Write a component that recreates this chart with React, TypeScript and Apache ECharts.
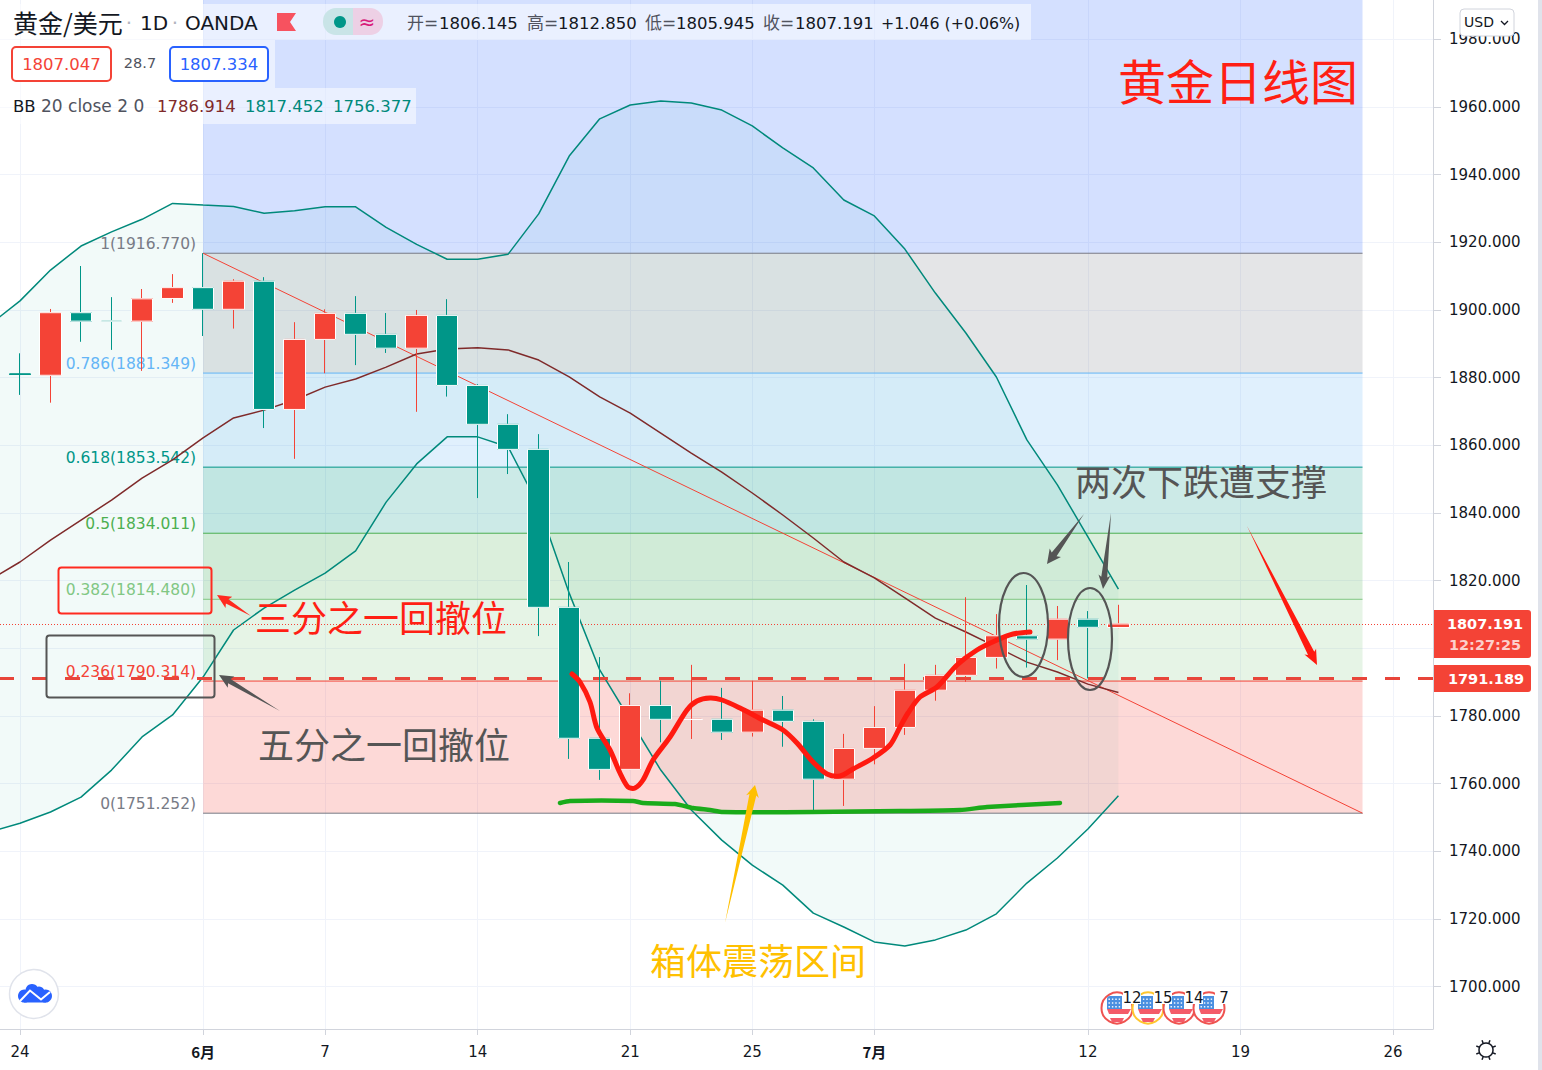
import React, { useEffect, useRef } from "react";
import * as echarts from "echarts";

const F = "'DejaVu Sans','Noto Sans CJK SC',sans-serif";
const CJK = "'Noto Sans CJK SC','DejaVu Sans',sans-serif";
const RED = "#f44336";
const TEAL = "#009688";

const yMin = 1687.46;
const yMax = 1991.63;
const xMin = -0.6555;
const xMax = 46.31;
const priceTicks = [1700, 1720, 1740, 1760, 1780, 1800, 1820, 1840, 1860, 1880, 1900, 1920, 1940, 1960, 1980];
// the 1800.000 label sits under the price tag in the reference
const priceLabels = [1700, 1720, 1740, 1760, 1780, 1820, 1840, 1860, 1880, 1900, 1920, 1940, 1960, 1980];
const dateTicks = [0, 6, 10, 15, 20, 24, 28, 35, 40, 45];
const dateLabels = ["24", "6月", "7", "14", "21", "25", "7月", "12", "19", "26"];

// open, close, low, high from index 0 (24 May)
const opens = [1881.05, 1880.7, 1899.2, 1896.75, 1896.7, 1903.4, 1906.6, 1900.2, 1908.5, 1870.6, 1891.3, 1899, 1892.8, 1888.7, 1898.4, 1877.7, 1866.2, 1858.8, 1812.1, 1773.4, 1764.2, 1783.1, 1778.95, 1779, 1775.2, 1781.7, 1778.4, 1761.3, 1770.4, 1776.6, 1787.6, 1792, 1797.3, 1803.7, 1802.7, 1808.6, 1806.145];
const closes = [1881, 1899.2, 1896.7, 1896.7, 1903.3, 1906.6, 1900.2, 1908.5, 1870.6, 1891.3, 1899, 1892.8, 1888.7, 1898.4, 1877.7, 1866.2, 1858.8, 1812.1, 1773.4, 1764.2, 1783.1, 1779, 1779, 1775.2, 1781.7, 1778.4, 1761.3, 1770.4, 1776.6, 1787.6, 1792, 1797.3, 1803.7, 1802.7, 1808.6, 1806.2, 1807.191];
const lows = [1874.9, 1872.6, 1890.6, 1888.2, 1882, 1902.1, 1892.3, 1894.5, 1865.1, 1856, 1881.3, 1883.7, 1887.3, 1869.9, 1874.4, 1844.4, 1851.5, 1803.6, 1767.3, 1761.1, 1764, 1772.2, 1773.2, 1772.9, 1773.9, 1770.9, 1752.2, 1753.4, 1765.7, 1774.4, 1784.5, 1790.1, 1794, 1794.3, 1796.5, 1791.1, 1805.945];
const highs = [1887.2, 1900.3, 1913, 1903.8, 1906.2, 1910.6, 1916.8, 1909.1, 1909.7, 1896.4, 1900.2, 1904.1, 1899.1, 1900, 1903.2, 1878.1, 1869.2, 1863.3, 1825.5, 1797.4, 1786.7, 1790.4, 1795.1, 1788.3, 1790.4, 1785.9, 1779, 1774.7, 1782.9, 1795.4, 1795.1, 1815.1, 1810.1, 1818.7, 1812.5, 1811, 1812.85];

// Bollinger bands from index -1
const bbUpper = [1895.6, 1902.7, 1911.8, 1918.9, 1923.1, 1926.8, 1931.5, 1931, 1930.6, 1928.6, 1929.3, 1930.5, 1930.5, 1924.4, 1919.4, 1915, 1915, 1916.5, 1928.4, 1945.5, 1956.5, 1960.6, 1961.8, 1961.2, 1959.1, 1954.4, 1947.9, 1942, 1932.5, 1927.8, 1918, 1905, 1893.2, 1880.2, 1861.6, 1848.3, 1832.9, 1817.452];
const bbMiddle = [1820.2, 1825.5, 1832, 1837.9, 1843.8, 1850.3, 1855.7, 1862.2, 1868.1, 1870.4, 1873.4, 1877.2, 1879.6, 1883.1, 1887, 1888.5, 1888.8, 1888.2, 1885.2, 1880.2, 1874.3, 1869.5, 1863.6, 1857.7, 1852.1, 1845.9, 1839.4, 1832.6, 1825.5, 1820.8, 1814.9, 1808.9, 1804.8, 1800.4, 1795.9, 1793, 1789.4, 1786.914];
const bbLower = [1745.7, 1748.3, 1751.6, 1756, 1764, 1773.8, 1780.3, 1791.5, 1805.4, 1811.9, 1817.2, 1822.2, 1828.8, 1843.2, 1854.5, 1862.5, 1862.5, 1859.5, 1842.1, 1816.3, 1793.6, 1778.8, 1764, 1752.2, 1743.3, 1735.9, 1730, 1721.7, 1717.6, 1713.2, 1712, 1713.8, 1716.7, 1721.5, 1730.6, 1738, 1746.6, 1756.377];

const fibLevels = [1916.77, 1881.349, 1853.542, 1834.011, 1814.48, 1790.314, 1751.252];
const fibRatios = ["1", "0.786", "0.618", "0.5", "0.382", "0.236", "0"];
const fibColors = ["#787b86", "#64b5f6", "#009688", "#4caf50", "#81c784", "#f44336", "#787b86"];
const fibFills = ["rgba(120,123,134,0.2)", "rgba(100,181,246,0.2)", "rgba(0,150,136,0.2)", "rgba(76,175,80,0.2)", "rgba(129,199,132,0.2)", "rgba(244,67,54,0.2)"];
const fibStart = 6;
const fibEnd = 44;
const lastPrice = 1807.191;
const linePrice = 1791.189;

const redCurve = [[572, 674], [580, 682], [590, 702], [597, 728], [610, 750], [620, 773], [628, 787], [635, 788], [643, 780], [653, 760], [670, 737], [687, 710], [697, 701], [710, 698], [722, 700], [740, 708], [763, 720], [783, 730], [797, 743], [813, 762], [827, 774], [840, 776], [853, 769], [873, 758], [890, 745], [900, 727], [908, 713], [920, 697], [937, 687], [957, 665], [977, 650], [997, 640], [1013, 634], [1030, 632]];
const greenCurve = [[560, 803], [570, 801], [633, 801], [643, 803], [675, 804], [693, 808], [710, 810], [723, 812], [813, 812], [900, 811], [960, 810], [987, 807], [1060, 803]];

const xs = bbUpper.map((_, i) => i - 1);

function arrow(x0: number, y0: number, x1: number, y1: number, hl: number, hw: number, sw: number, fill: string) {
  const len = Math.hypot(x1 - x0, y1 - y0);
  const ux = (x1 - x0) / len, uy = (y1 - y0) / len;
  const nx = -uy, ny = ux;
  const nkx = x1 - ux * hl, nky = y1 - uy * hl;
  const p = (d: number, w: number) => [nkx + ux * d + nx * w, nky + uy * d + ny * w];
  return {
    type: "polygon", z: 110, silent: true,
    shape: { points: [[x0, y0], p(0, sw / 2), p(-2, hw / 2), [x1, y1], p(-2, -hw / 2), p(0, -sw / 2)] },
    style: { fill },
  };
}
function txt(text: string, x: number, y: number, size: number, fill: string, align = "left", family = F, fontWeight = "normal") {
  return { type: "text", z: 120, silent: true, style: { text, x, y, fill, fontSize: size, fontFamily: family, align, verticalAlign: "middle", fontWeight } };
}
function box(x: number, y: number, w: number, h: number, fill: string, stroke?: string, lw = 0, r: any = 0, z = 105) {
  return { type: "rect", z, silent: true, shape: { x, y, width: w, height: h, r }, style: { fill, stroke, lineWidth: lw } };
}
function eventIcon(cx: number, cy: number, color: string, num: string) {
  const dots: any[] = [];
  for (let r = 0; r < 3; r++) for (let c = 0; c < 4; c++) dots.push(box(cx - 8.5 + c * 3.4, cy - 9.5 + r * 3.8, 1.4, 1.4, "#fff", undefined, 0, 0, 110));
  return [
    { type: "circle", z: 108, silent: true, shape: { cx, cy, r: 15.5 }, style: { fill: "#fff", stroke: color, lineWidth: 2 } },
    { type: "polygon", z: 109, silent: true, shape: { points: [[cx - 10, cy + 1], [cx + 14, cy + 1], [cx + 11, cy + 6], [cx - 8, cy + 6]] }, style: { fill: "#f45b69" } },
    { type: "polygon", z: 109, silent: true, shape: { points: [[cx - 7, cy + 10], [cx + 7, cy + 10], [cx + 5, cy + 14], [cx - 5, cy + 14]] }, style: { fill: "#f45b69" } },
    box(cx - 10, cy - 12, 15, 13, "#4a8fe0", undefined, 0, [3, 0, 0, 0], 109),
    ...dots,
    box(cx + 6, cy - 17, 18, 13, "#fff", undefined, 0, 0, 111),
    txt(num, cx + 15, cy - 10, 15, "#131722", "center"),
  ];
}

export default function App() {
  const ref = useRef<HTMLDivElement>(null);
  useEffect(() => {
    document.body.style.margin = "0";
    const chart = echarts.init(ref.current!, undefined, { renderer: "svg" });
    const fibData = fibRatios.map((_, i) => [fibStart, fibLevels[i], i]);
    const rays = Array.from({ length: 8 }, (_, i) => {
      const a = (i * Math.PI) / 4 + Math.PI / 8;
      return { type: "line", z: 120, silent: true, shape: { x1: 1486 + 7.5 * Math.cos(a), y1: 1050 + 7.5 * Math.sin(a), x2: 1486 + 10.5 * Math.cos(a), y2: 1050 + 10.5 * Math.sin(a) }, style: { stroke: "#131722", lineWidth: 1.5 } };
    });
    const graphics: any[] = [
      // header backgrounds
      box(0, 4, 1031, 36, "rgba(255,255,255,0.5)"),
      box(0, 40, 275, 48, "rgba(255,255,255,0.5)"),
      box(0, 88, 416, 36, "rgba(255,255,255,0.5)"),
      txt("黄金/美元", 13, 22, 25, "#131722", "left", CJK),
      txt("·", 129, 23, 20, "#b2b5be", "center"),
      txt("1D", 140, 23, 20, "#131722"),
      txt("·", 175, 23, 20, "#b2b5be", "center"),
      txt("OANDA", 185, 23, 20, "#131722"),
      { type: "polygon", z: 110, silent: true, shape: { points: [[277, 13], [296, 13], [290, 22], [296, 31], [277, 31]] }, style: { fill: "#f7525f" } },
      box(323, 8, 31, 27, "#c9e4e7", undefined, 0, [13, 0, 0, 13]),
      box(353, 8, 30, 27, "#edd0e5", undefined, 0, [0, 13, 13, 0]),
      { type: "circle", z: 110, silent: true, shape: { cx: 340, cy: 22, r: 6 }, style: { fill: TEAL } },
      txt("≈", 367, 22, 20, "#d81b7a", "center"),
      txt("开=", 407, 23, 17, "#50535e"), txt("1806.145", 439, 23, 16.5, "#131722"),
      txt("高=", 527, 23, 17, "#50535e"), txt("1812.850", 558, 23, 16.5, "#131722"),
      txt("低=", 645, 23, 17, "#50535e"), txt("1805.945", 676, 23, 16.5, "#131722"),
      txt("收=", 763, 23, 17, "#50535e"), txt("1807.191", 795, 23, 16.5, "#131722"),
      txt("+1.046 (+0.06%)", 881, 23, 15.8, "#131722"),
      box(12, 47, 99, 34, "#fff", RED, 2, 4),
      txt("1807.047", 61.5, 64, 16.5, RED, "center"),
      txt("28.7", 140, 63, 14.5, "#50535e", "center"),
      box(170, 47, 98, 34, "#fff", "#2962ff", 2, 4),
      txt("1807.334", 219, 64, 16.5, "#2962ff", "center"),
      txt("BB", 13, 106, 16.5, "#131722"),
      txt("20 close 2 0", 41, 106, 17, "#50535e"),
      txt("1786.914", 157, 106, 16.5, "#7f2a2a"),
      txt("1817.452", 245, 106, 16.5, "#00897b"),
      txt("1756.377", 333, 106, 16.5, "#00897b"),
      // USD button
      box(1460, 9, 54, 27, "#fff", "#d1d4dc", 1, 4),
      txt("USD", 1464, 22, 14, "#131722"),
      { type: "polyline", z: 120, silent: true, shape: { points: [[1501, 21], [1504.5, 24.5], [1508, 21]] }, style: { stroke: "#131722", lineWidth: 1.3, fill: "none" } },
      // price tags
      box(1434, 610, 97, 48, RED, undefined, 0, [0, 3, 3, 0]),
      txt("1807.191", 1485, 624, 14.5, "#fff", "center", F, "bold"),
      txt("12:27:25", 1485, 645, 14.5, "rgba(255,255,255,0.75)", "center", F, "bold"),
      box(1434, 665, 97, 27, RED, undefined, 0, [0, 3, 3, 0]),
      txt("1791.189", 1486, 679, 14.5, "#fff", "center", F, "bold"),
      box(1538, 0, 4, 1070, "#e0e3eb"),
      // annotations
      { type: "polyline", z: 107, silent: true, shape: { points: greenCurve, smooth: 0.2 }, style: { stroke: "#1aab1a", lineWidth: 4.5, fill: "none", lineCap: "round" } },
      { type: "polyline", z: 107, silent: true, shape: { points: redCurve, smooth: 0.3 }, style: { stroke: "#ff1a10", lineWidth: 5, fill: "none", lineCap: "round" } },
      box(58.5, 567.5, 153, 46, "none", "#ff2a20", 2, 3),
      box(46.5, 635.5, 168, 62, "none", "#555", 2, 3),
      { type: "ellipse", z: 108, silent: true, shape: { cx: 1023.5, cy: 625, rx: 24.5, ry: 52 }, style: { fill: "none", stroke: "#555", lineWidth: 2.2 } },
      { type: "ellipse", z: 108, silent: true, shape: { cx: 1090, cy: 639, rx: 22, ry: 51 }, style: { fill: "none", stroke: "#555", lineWidth: 2.2 } },
      arrow(251, 616, 217, 595, 12, 13, 5, "#ff2a20"),
      arrow(280, 711, 219, 675, 12, 13, 5, "#555"),
      arrow(1084, 514, 1047, 564, 12, 14, 6, "#555"),
      arrow(1111, 513, 1103, 589, 12, 12, 6, "#555"),
      arrow(1247, 526, 1317, 665, 13, 13, 7, "#ff1a10"),
      arrow(725, 923, 755, 785, 10, 13, 7, "#ffc000"),
      txt("黄金日线图", 1118, 79, 48, "#ff1f14", "left", CJK),
      txt("两次下跌遭支撑", 1075, 480, 36, "#555", "left", CJK),
      txt("三分之一回撤位", 255, 616, 36, "#ff1f14", "left", CJK),
      txt("五分之一回撤位", 258, 743, 36, "#555", "left", CJK),
      txt("箱体震荡区间", 650, 959, 36, "#ffc000", "left", CJK),
      // logo
      { type: "circle", z: 110, silent: true, shape: { cx: 34, cy: 994, r: 24.5 }, style: { fill: "#fff", stroke: "#e0e3eb", lineWidth: 1.5 } },
      { type: "circle", z: 111, silent: true, shape: { cx: 24.5, cy: 996, r: 6.5 }, style: { fill: "#2962ff" } },
      { type: "circle", z: 111, silent: true, shape: { cx: 32, cy: 990.5, r: 6.5 }, style: { fill: "#2962ff" } },
      { type: "circle", z: 111, silent: true, shape: { cx: 39, cy: 992, r: 5.5 }, style: { fill: "#2962ff" } },
      { type: "circle", z: 111, silent: true, shape: { cx: 45.5, cy: 996, r: 6.5 }, style: { fill: "#2962ff" } },
      box(24, 993, 22, 9.5, "#2962ff", undefined, 0, 0, 111),
      { type: "polyline", z: 112, silent: true, shape: { points: [[20, 1001], [30, 990.5], [41, 999.5], [50, 992]] }, style: { stroke: "#fff", lineWidth: 2, fill: "none" } },
      ...eventIcon(1117, 1008, "#ef5350", "12"),
      ...eventIcon(1148, 1008, "#ffc62f", "15"),
      ...eventIcon(1179, 1008, "#ef5350", "14"),
      ...eventIcon(1209, 1008, "#ef5350", "7"),
      { type: "circle", z: 120, silent: true, shape: { cx: 1486, cy: 1050, r: 7 }, style: { fill: "none", stroke: "#131722", lineWidth: 1.5 } },
      ...rays,
    ];
    chart.setOption({
      animation: false,
      backgroundColor: "#fff",
      grid: { left: 0, top: 0, width: 1433, height: 1029, containLabel: false },
      xAxis: {
        type: "value", min: xMin, max: xMax, scale: true,
        axisLine: { lineStyle: { color: "#d1d4dc" }, onZero: false },
        axisTick: { customValues: dateTicks, length: 6, lineStyle: { color: "#d1d4dc" } },
        axisLabel: {
          customValues: dateTicks, margin: 15, fontSize: 15, fontFamily: F, color: "#131722",
          formatter: (v: number) => {
            const s = dateLabels[dateTicks.indexOf(v)];
            return s && s.includes("月") ? `{b|${s}}` : s;
          },
          rich: { b: { fontWeight: "bold", fontSize: 15, fontFamily: CJK, color: "#131722" } },
        },
        splitLine: { show: true, lineStyle: { color: "#f0f3fa", width: 1 } },
      },
      yAxis: {
        type: "value", position: "right", min: yMin, max: yMax, scale: true,
        axisLine: { show: true, onZero: false, lineStyle: { color: "#d1d4dc" } },
        axisTick: { show: true, customValues: priceTicks, length: 8, lineStyle: { color: "#d1d4dc" } },
        axisLabel: { customValues: priceLabels, margin: 16, fontSize: 15, fontFamily: F, color: "#131722", align: "left", formatter: (v: number) => v.toFixed(3) },
        splitLine: { show: true, lineStyle: { color: "#f0f3fa", width: 1 } },
      },
      graphic: { elements: graphics },
      series: [
        {
          type: "custom", name: "bbfill", z: 1, silent: true, clip: false,
          data: [[0, 1800]], encode: { x: 0, y: 1 },
          renderItem: (_p: any, api: any) => {
            const top = bbUpper.map((v, i) => api.coord([xs[i], v]));
            const bot = bbLower.map((v, i) => api.coord([xs[i], v])).reverse();
            return { type: "polygon", shape: { points: [...top, ...bot] }, style: { fill: "rgba(0,150,136,0.05)" } };
          },
        },
        {
          type: "custom", name: "fib", z: 2, silent: true, clip: false,
          data: fibData, encode: { x: 0, y: 1 },
          renderItem: (_p: any, api: any) => {
            const i = api.value(2);
            const upper = i === 0 ? yMax : fibLevels[i - 1];
            const a = api.coord([fibStart, fibLevels[i]]);
            const b = api.coord([fibEnd, upper]);
            const fill = i === 0 ? "rgba(41,98,255,0.2)" : fibFills[i - 1];
            return {
              type: "group",
              children: [
                { type: "rect", shape: { x: a[0], y: b[1], width: b[0] - a[0], height: a[1] - b[1] }, style: { fill } },
                { type: "line", shape: { x1: a[0], y1: a[1], x2: b[0], y2: a[1] }, style: { stroke: fibColors[i], lineWidth: 1 } },
                { type: "text", style: { text: `${fibRatios[i]}(${fibLevels[i].toFixed(3)})`, x: a[0] - 7, y: a[1] - 9, align: "right", verticalAlign: "middle", fill: fibColors[i], fontSize: 15.5, fontFamily: F } },
              ],
            };
          },
        },
        {
          type: "line", name: "fibTrend", z: 3, silent: true, symbol: "none",
          data: [[fibStart, fibLevels[0]], [fibEnd, fibLevels[6]]],
          lineStyle: { color: "#f44336", width: 1 },
        },
        {
          type: "line", name: "upper", z: 3, silent: true, symbol: "none", clip: false,
          data: bbUpper.map((v, i) => [xs[i], v]), lineStyle: { color: "#00897b", width: 1.5 },
        },
        {
          type: "line", name: "lower", z: 3, silent: true, symbol: "none", clip: false,
          data: bbLower.map((v, i) => [xs[i], v]), lineStyle: { color: "#00897b", width: 1.5 },
        },
        {
          type: "line", name: "middle", z: 3, silent: true, symbol: "none", clip: false,
          data: bbMiddle.map((v, i) => [xs[i], v]), lineStyle: { color: "#7f2a2a", width: 1.5 },
          markLine: {
            silent: true, symbol: "none", label: { show: false },
            data: [
              { yAxis: lastPrice, lineStyle: { color: RED, width: 1, type: [1, 2] } },
              { yAxis: linePrice, lineStyle: { color: "#e8453a", width: 3, type: [15, 18], dashOffset: 1 } },
            ],
          },
        },
        {
          type: "candlestick", name: "wicks", z: 5, silent: true, barWidth: 21,
          encode: { x: 0, y: [1, 2, 3, 4] },
          itemStyle: { color: RED, color0: TEAL, borderColor: RED, borderColor0: TEAL, borderWidth: 1 },
          data: opens.map((o, i) => [i, o, closes[i], lows[i], highs[i]]),
        },
        {
          type: "candlestick", name: "bodies", z: 6, silent: true, barWidth: 22,
          encode: { x: 0, y: [1, 2, 3, 4] },
          itemStyle: { color: RED, color0: TEAL, borderColor: "#fff", borderColor0: "#fff", borderWidth: 1 },
          data: opens.map((o, i) => {
            const value = [i, o, closes[i], Math.min(o, closes[i]), Math.max(o, closes[i])];
            return i === 0 ? { value, itemStyle: { borderColor: TEAL, borderColor0: TEAL } } : value;
          }),
        },
      ],
    });
    return () => chart.dispose();
  }, []);
  return <div ref={ref} style={{ position: "absolute", left: 0, top: 0, width: 1542, height: 1070 }} />;
}
